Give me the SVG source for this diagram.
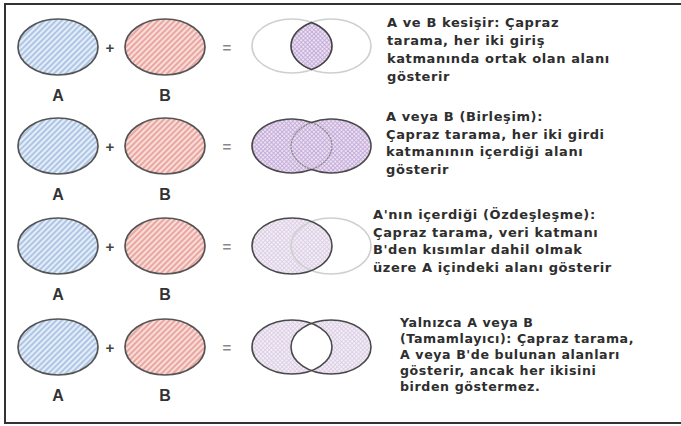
<svg xmlns="http://www.w3.org/2000/svg" width="681" height="426" viewBox="0 0 681 426">
<style>
.lbl{font-family:"Liberation Sans",Arial,sans-serif;font-weight:bold;font-size:16px;fill:#333;text-anchor:middle}
.op{font-family:"Liberation Sans",Arial,sans-serif;font-weight:bold;font-size:15px;text-anchor:middle}
.desc{font-family:"DejaVu Sans","Noto Sans",sans-serif;font-weight:bold;font-size:13px;fill:#2e2e2e;letter-spacing:0.6px}
.d4{font-size:12.6px}
.ea{fill:url(#hA);stroke:#555;stroke-width:1.7}
.eb{fill:url(#hB);stroke:#555;stroke-width:1.7}
.dark{fill:none;stroke:#4a4a4a;stroke-width:1.6}
.light{fill:none;stroke:#cfcfcf;stroke-width:1.6}
.mid{fill:none;stroke:#8a8a8a;stroke-width:1.3;stroke-dasharray:2 1}
</style>
<defs>
<pattern id="hA" width="4" height="4" patternUnits="userSpaceOnUse" patternTransform="rotate(45)">
<rect width="4" height="4" fill="#e4edf8"/><line x1="1" y1="0" x2="1" y2="4" stroke="#98b6de" stroke-width="1.4"/>
</pattern>
<pattern id="hB" width="4" height="4" patternUnits="userSpaceOnUse" patternTransform="rotate(45)">
<rect width="4" height="4" fill="#f8dcd8"/><line x1="1" y1="0" x2="1" y2="4" stroke="#e4918b" stroke-width="1.4"/>
</pattern>
<pattern id="xP" width="3" height="3" patternUnits="userSpaceOnUse" patternTransform="rotate(45)">
<rect width="3" height="3" fill="#ece1f3"/><path d="M0 0.5H3M0.5 0V3" stroke="#c0a6d5" stroke-width="0.8"/>
</pattern>
<pattern id="xL" width="3" height="3" patternUnits="userSpaceOnUse" patternTransform="rotate(45)">
<rect width="3" height="3" fill="#f4eef7"/><path d="M0 0.5H3M0.5 0V3" stroke="#d9cbe3" stroke-width="0.8"/>
</pattern>
<path id="lens" d="M311.5 -23.57A40 27 0 0 1 311.5 23.57A40 27 0 0 1 311.5 -23.57Z"/>
<path id="union" d="M311.5 -23.57A40 27 0 1 0 311.5 23.57A40 27 0 1 0 311.5 -23.57Z"/>
</defs>
<rect x="5" y="4" width="680" height="419" fill="#fff" stroke="#333" stroke-width="2"/>

<g id="row1" transform="translate(0,47)">
<g id="r1-a"><ellipse class="ea" cx="58" cy="0" rx="40" ry="28"/><text class="lbl" x="58" y="54">A</text></g>
<text class="op" x="110" y="6" fill="#444">+</text>
<g id="r1-b"><ellipse class="eb" cx="165" cy="0" rx="40" ry="28"/><text class="lbl" x="165" y="54">B</text></g>
<text class="op" x="227" y="6" fill="#888">=</text>
<g id="r1-venn">
<ellipse class="light" cx="292" cy="-1" rx="40" ry="27"/>
<ellipse class="light" cx="331" cy="-1" rx="40" ry="27"/>
<use href="#lens" y="-1" fill="url(#xP)" stroke="#444" stroke-width="1.6"/>
</g>
<text class="desc" x="387" y="-20"><tspan x="387">A ve B kesişir: Çapraz</tspan><tspan x="387" dy="18">tarama, her iki giriş</tspan><tspan x="387" dy="18">katmanında ortak olan alanı</tspan><tspan x="387" dy="18">gösterir</tspan></text>
</g>

<g id="row2" transform="translate(0,146)">
<g id="r2-a"><ellipse class="ea" cx="58" cy="0" rx="40" ry="28"/><text class="lbl" x="58" y="54">A</text></g>
<text class="op" x="110" y="6" fill="#444">+</text>
<g id="r2-b"><ellipse class="eb" cx="165" cy="0" rx="40" ry="28"/><text class="lbl" x="165" y="54">B</text></g>
<text class="op" x="227" y="6" fill="#888">=</text>
<g id="r2-venn">
<use href="#union" fill="url(#xP)"/>
<use href="#lens" class="mid"/>
<use href="#union" class="dark"/>
</g>
<text class="desc" x="386" y="-25"><tspan x="386">A veya B (Birleşim):</tspan><tspan x="386" dy="17.5">Çapraz tarama, her iki girdi</tspan><tspan x="386" dy="17.5">katmanının içerdiği alanı</tspan><tspan x="386" dy="17.5">gösterir</tspan></text>
</g>

<g id="row3" transform="translate(0,246)">
<g id="r3-a"><ellipse class="ea" cx="58" cy="0" rx="40" ry="28"/><text class="lbl" x="58" y="54">A</text></g>
<text class="op" x="110" y="6" fill="#444">+</text>
<g id="r3-b"><ellipse class="eb" cx="165" cy="0" rx="40" ry="28"/><text class="lbl" x="165" y="54">B</text></g>
<text class="op" x="227" y="6" fill="#888">=</text>
<g id="r3-venn">
<ellipse cx="292" cy="0" rx="40" ry="28" fill="url(#xL)"/>
<ellipse class="light" cx="331" cy="0" rx="40" ry="28"/>
<ellipse class="dark" cx="292" cy="0" rx="40" ry="28"/>
</g>
<text class="desc" x="373" y="-27"><tspan x="373">A'nın içerdiği (Özdeşleşme):</tspan><tspan x="373" dy="17.5">Çapraz tarama, veri katmanı</tspan><tspan x="373" dy="17.5">B'den kısımlar dahil olmak</tspan><tspan x="373" dy="17.5">üzere A içindeki alanı gösterir</tspan></text>
</g>

<g id="row4" transform="translate(0,347)">
<g id="r4-a"><ellipse class="ea" cx="58" cy="0" rx="40" ry="28"/><text class="lbl" x="58" y="54">A</text></g>
<text class="op" x="110" y="6" fill="#444">+</text>
<g id="r4-b"><ellipse class="eb" cx="165" cy="0" rx="40" ry="28"/><text class="lbl" x="165" y="54">B</text></g>
<text class="op" x="227" y="6" fill="#888">=</text>
<g id="r4-venn">
<use href="#union" fill="url(#xL)"/>
<use href="#lens" fill="#fff"/>
<ellipse class="dark" cx="292" cy="0" rx="40" ry="27"/>
<ellipse class="dark" cx="331" cy="0" rx="40" ry="27"/>
</g>
<text class="desc d4" x="400" y="-20"><tspan x="400">Yalnızca A veya B</tspan><tspan x="400" dy="16">(Tamamlayıcı): Çapraz tarama,</tspan><tspan x="400" dy="16">A veya B'de bulunan alanları</tspan><tspan x="400" dy="16">gösterir, ancak her ikisini</tspan><tspan x="400" dy="16">birden göstermez.</tspan></text>
</g>
</svg>
